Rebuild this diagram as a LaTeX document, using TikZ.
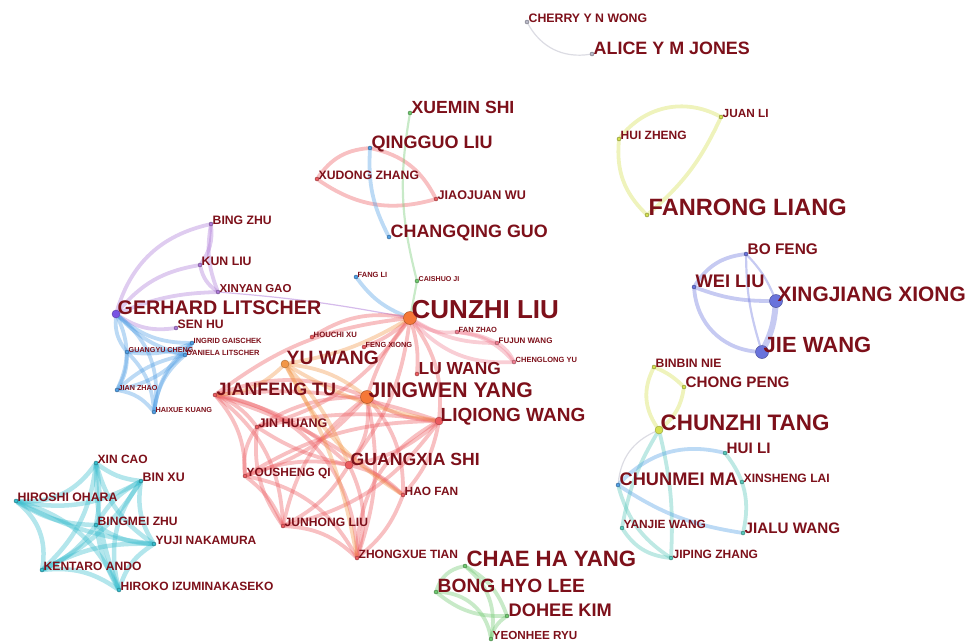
\documentclass[tikz,border=0pt]{standalone}
\usepackage{fontspec}
\setmainfont{Liberation Sans}
\usetikzlibrary{backgrounds}
\definecolor{labc}{RGB}{125,16,26}
\definecolor{cred}{RGB}{236,90,95}
\definecolor{corange}{RGB}{242,150,70}
\definecolor{cpink}{RGB}{240,125,145}
\definecolor{cblue}{RGB}{80,158,228}
\definecolor{cpurple}{RGB}{172,120,215}
\definecolor{ccyan}{RGB}{55,188,205}
\definecolor{cgreen}{RGB}{110,200,110}
\definecolor{cyellow}{RGB}{212,224,80}
\definecolor{cperi}{RGB}{105,115,220}
\definecolor{cteal}{RGB}{85,198,185}
\definecolor{cgray}{RGB}{185,185,200}
\tikzset{
  lbl/.style={anchor=base west, inner sep=0pt, text=labc},
  dotn/.style={circle, inner sep=0pt, minimum size=4pt, fill=#1, draw=#1!60!black, line width=0.4pt},
  middot/.style={circle, inner sep=0pt, minimum size=8pt, fill=#1, draw=#1!70!black, line width=0.4pt},
  bigdot/.style={circle, inner sep=0pt, minimum size=13pt, fill=#1, draw=#1!70!black, line width=0.5pt},
  lnk/.style={line width=3.8pt, draw opacity=0.38, line cap=round},
  thinlnk/.style={line width=1.2pt, draw opacity=0.5, line cap=round}
}
\newcommand\au[6]{%
  \node[#5] (#1) at (#2,#3) {};
  \node[lbl, font=\bfseries\fontsize{#4}{#4}\selectfont] (#1-t) at ({#2+1.5},#3) {#6};}
\begin{document}
\begin{tikzpicture}[x=1pt,y=-1pt]
\useasboundingbox (0,0) rectangle (972,643);
% ---------- authors ----------
\au{cw}{527}{22}{12.3}{dotn=cgray}{CHERRY Y N WONG}
\au{aj}{592}{54}{17.9}{dotn=cgray}{ALICE Y M JONES}
\au{xs}{410}{113}{17.6}{dotn=cgreen}{XUEMIN SHI}
\au{ql}{370}{148}{18}{dotn=cblue}{QINGGUO LIU}
\au{xz}{317}{179}{12.2}{dotn=cred}{XUDONG ZHANG}
\au{jw}{436}{199}{12.6}{dotn=cred}{JIAOJUAN WU}
\au{cg}{389}{237}{17.9}{dotn=cblue}{CHANGQING GUO}
\au{jli}{721}{117}{11.8}{dotn=cyellow}{JUAN LI}
\au{hz}{619}{139}{12}{dotn=cyellow}{HUI ZHENG}
\au{fl}{647}{215}{23.6}{dotn=cyellow}{FANRONG LIANG}
\au{bf}{746}{254}{15.4}{dotn=cperi}{BO FENG}
\au{wl}{694}{287}{18.2}{dotn=cperi}{WEI LIU}
\au{xx}{776}{301}{20.9}{bigdot=cperi}{XINGJIANG XIONG}
\au{jwa}{762}{352}{22}{bigdot=cperi}{JIE WANG}
% purple / blue (left)
\au{bz}{211}{224}{12.2}{dotn=cpurple}{BING ZHU}
\au{kl}{200}{265}{12.3}{dotn=cpurple}{KUN LIU}
\au{xg}{218}{292}{11.5}{dotn=cpurple}{XINYAN GAO}
\au{gl}{116}{314}{19.7}{middot=cpurple!70!blue}{GERHARD LITSCHER}
\au{sh}{176}{328}{12.2}{dotn=cpurple}{SEN HU}
\au{ig}{192}{343}{7.5}{dotn=cblue}{INGRID GAISCHEK}
\au{gc}{127}{352}{7.2}{dotn=cblue}{GUANGYU CHENG}
\au{dl}{185}{355}{7.5}{dotn=cblue}{DANIELA LITSCHER}
\au{jz}{117}{390}{7.2}{dotn=cblue}{JIAN ZHAO}
\au{hk}{154}{412}{7.3}{dotn=cblue}{HAIXUE KUANG}
% red cluster
\au{fli}{356}{277}{7.5}{dotn=cblue}{FANG LI}
\au{cj}{417}{281}{7.1}{dotn=cgreen}{CAISHUO JI}
\au{cz}{410}{318}{26}{bigdot=corange!80!red}{CUNZHI LIU}
\au{fz}{457}{332}{7.5}{dotn=cpink}{FAN ZHAO}
\au{fw}{497}{343}{8}{dotn=cpink}{FUJUN WANG}
\au{cy}{514}{362}{7.5}{dotn=cpink}{CHENGLONG YU}
\au{hx}{312}{337}{7.7}{dotn=cred}{HOUCHI XU}
\au{fx}{364}{347}{7.4}{dotn=cred}{FENG XIONG}
\au{yw}{285}{364}{19.3}{middot=corange}{YU WANG}
\au{lw}{417}{374}{17.4}{dotn=cred}{LU WANG}
\au{jt}{215}{395}{17.9}{dotn=cred}{JIANFENG TU}
\au{jy}{367}{397}{21.2}{bigdot=corange!80!red}{JINGWEN YANG}
\au{lq}{439}{421}{19}{middot=cred}{LIQIONG WANG}
\au{jh}{257}{427}{12.5}{dotn=cred}{JIN HUANG}
\au{gs}{349}{465}{17.6}{middot=cred}{GUANGXIA SHI}
\au{yq}{245}{476}{11.9}{dotn=cred}{YOUSHENG QI}
\au{hf}{403}{495}{11.9}{dotn=cred}{HAO FAN}
\au{jl}{283}{526}{12.1}{dotn=cred}{JUNHONG LIU}
\au{zt}{357}{558}{12}{dotn=cred}{ZHONGXUE TIAN}
% cyan cluster
\au{xc}{96}{463}{12}{dotn=ccyan}{XIN CAO}
\au{bx}{141}{481}{12.4}{dotn=ccyan}{BIN XU}
\au{ho}{16}{501}{12.3}{dotn=ccyan}{HIROSHI OHARA}
\au{bmz}{96}{525}{12.1}{dotn=ccyan}{BINGMEI ZHU}
\au{yn}{154}{544}{12}{dotn=ccyan}{YUJI NAKAMURA}
\au{ka}{42}{570}{12.1}{dotn=ccyan}{KENTARO ANDO}
\au{hi}{119}{590}{12}{dotn=ccyan}{HIROKO IZUMINAKASEKO}
% green cluster
\au{chy}{465}{566}{22.2}{dotn=cgreen}{CHAE HA YANG}
\au{bhl}{436}{592}{19.2}{dotn=cgreen}{BONG HYO LEE}
\au{dk}{507}{616}{18.2}{dotn=cgreen}{DOHEE KIM}
\au{yr}{491}{639}{11.7}{dotn=cgreen}{YEONHEE RYU}
% lower right
\au{bn}{654}{367}{12.2}{dotn=cyellow}{BINBIN NIE}
\au{cp}{684}{387}{15.2}{dotn=cyellow}{CHONG PENG}
\au{ct}{659}{430}{22.4}{middot=cyellow}{CHUNZHI TANG}
\au{hl}{725}{453}{15.2}{dotn=cteal}{HUI LI}
\au{cm}{618}{485}{18.2}{dotn=cblue}{CHUNMEI MA}
\au{xl}{742}{482}{12.1}{dotn=cteal}{XINSHENG LAI}
\au{yjw}{622}{528}{11.9}{dotn=cteal}{YANJIE WANG}
\au{jlw}{743}{533}{15.2}{dotn=cteal}{JIALU WANG}
\au{jpz}{671}{558}{12}{dotn=cteal}{JIPING ZHANG}
% ---------- links ----------
\begin{scope}[on background layer]
\draw[thinlnk,cgray] (cw) to[bend right=35] (aj);
% top middle
\draw[lnk,cred] (ql) to[bend right=25] (xz);
\draw[lnk,cred] (ql) to[bend left=25] (jw);
\draw[lnk,cred] (xz) to[bend right=25] (jw);
\draw[lnk,cblue] (ql) to[bend right=15] (cg);
\draw[lnk,cgreen,line width=2.2pt] (xs) to[bend right=12] (cj);
\draw[lnk,cgreen,line width=2.2pt] (cj) -- (cz);
\draw[lnk,cblue] (fli) to[bend right=15] (cz);
\draw[thinlnk,cpurple] (xg) to[bend left=3] (cz);
% yellow
\draw[lnk,cyellow] (jli) to[bend right=40] (hz);
\draw[lnk,cyellow] (hz) to[bend right=25] (fl);
\draw[lnk,cyellow] (jli) to[bend left=12] (fl);
% periwinkle
\draw[lnk,cperi] (bf) to[bend right=25] (wl);
\draw[lnk,cperi,line width=2.2pt] (bf) to[bend left=10] (xx);
\draw[lnk,cperi,line width=2.2pt] (bf) to[bend right=8] (jwa);
\draw[lnk,cperi] (wl) to[bend right=10] (xx);
\draw[lnk,cperi] (wl) to[bend right=40] (jwa);
\draw[lnk,cperi,line width=6pt] (xx) to[bend left=10] (jwa);
% purple
\foreach \a/\b/\k in {gl/bz/30, gl/kl/20, gl/xg/10, bz/kl/20, bz/xg/-15, kl/xg/-20, gl/sh/-20}
  {\draw[lnk,cpurple] (\a) to[bend left=\k] (\b);}
% blue (Litscher)
\foreach \a/\b/\k in {gl/gc/-20, gl/ig/-20, gl/dl/-15, gl/jz/25, gl/hk/30, gc/ig/-15, gc/dl/10,
  gc/jz/15, gc/hk/20, ig/dl/10, ig/jz/20, ig/hk/-20, dl/jz/-15, dl/hk/-20, jz/hk/20}
  {\draw[lnk,cblue] (\a) to[bend left=\k] (\b);}
% red
\foreach \a/\b/\k in {jt/jy/20, jt/lq/12, jt/gs/15, jt/zt/40, jt/jl/25, jt/yq/20, jt/jh/15, jt/cz/15, jt/hf/10,
  jy/lq/-15, jy/gs/20, jy/zt/15, jy/jl/-20, jy/yq/15, jy/cz/10, jy/jh/-15, jy/hf/20,
  cz/lq/20, cz/gs/15, cz/lw/10, cz/fx/10, cz/hx/-20, cz/jh/20,
  lq/gs/15, lq/zt/-30, lq/jl/20, lq/yq/-15, lq/hf/15, lq/jh/-10,
  gs/zt/20, gs/jl/15, gs/yq/-15, gs/hf/15, gs/jh/10,
  yq/zt/25, yq/jl/15, jl/zt/20, yq/jh/20, jh/jl/-20, zt/hf/-15}
  {\draw[lnk,cred] (\a) to[bend left=\k] (\b);}
\foreach \a/\b/\k in {yw/jy/15, yw/lq/-10, yw/gs/10, yw/hf/-15, yw/jt/20, yw/cz/-10, yw/zt/10}
  {\draw[lnk,corange] (\a) to[bend left=\k] (\b);}
\foreach \a/\b/\k in {cz/fz/-20, cz/fw/-15, cz/cy/-25, fz/cy/20, fw/cy/15, fz/fw/10}
  {\draw[lnk,cpink] (\a) to[bend left=\k] (\b);}
% cyan
\foreach \a/\b/\k in {xc/bx/-15, xc/ho/30, xc/bmz/10, xc/yn/-20, xc/ka/20, xc/hi/-10, bx/ho/20,
  bx/bmz/-15, bx/yn/-20, bx/ka/15, bx/hi/-25, ho/bmz/-15, ho/yn/-10, ho/ka/30, ho/hi/25,
  bmz/yn/-15, bmz/ka/15, bmz/hi/-10, yn/ka/-15, yn/hi/-20, ka/hi/20}
  {\draw[lnk,ccyan,line width=4.5pt] (\a) to[bend left=\k] (\b);}
% green
\foreach \a/\b/\k in {chy/bhl/-30, chy/dk/20, chy/yr/30, bhl/dk/-20, bhl/yr/40, dk/yr/-20}
  {\draw[lnk,cgreen] (\a) to[bend left=\k] (\b);}
% lower right
\draw[lnk,cyellow] (bn) to[bend left=10] (cp);
\draw[lnk,cyellow] (bn) to[bend right=30] (ct);
\draw[lnk,cyellow] (cp) to[bend left=20] (ct);
\draw[thinlnk,cgray] (ct) to[bend right=30] (cm);
\draw[lnk,cteal] (ct) to[bend right=10] (yjw);
\draw[lnk,cteal] (ct) to[bend left=8] (jpz);
\draw[lnk,cblue] (cm) to[bend left=30] (hl);
\draw[lnk,cblue] (cm) to[bend right=12] (jlw);
\draw[lnk,cteal] (hl) to[bend left=25] (jlw);
\draw[lnk,cteal] (yjw) to[bend right=25] (jpz);
\draw[lnk,cteal] (cm) to[bend right=20] (jpz);
\end{scope}
\end{tikzpicture}
\end{document}
